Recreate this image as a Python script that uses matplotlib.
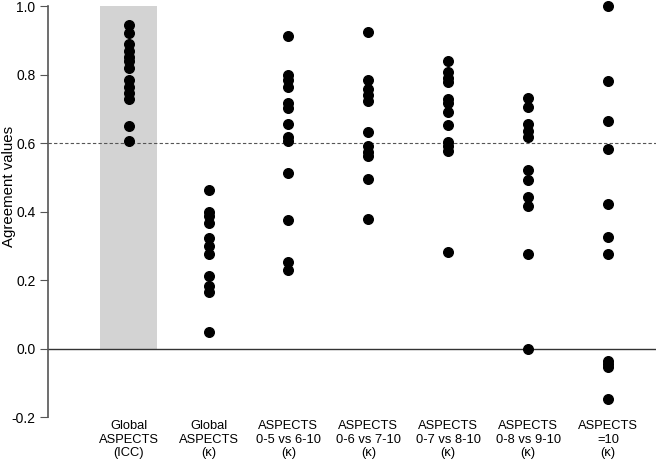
import numpy as np
import matplotlib.pyplot as plt

plt.rcParams['font.family'] = ['Liberation Sans', 'DejaVu Sans']

# categories and agreement values
labels = ['Global\nASPECTS\n(ICC)', 'Global\nASPECTS\n(\u03ba)', 'ASPECTS\n0-5 vs 6-10\n(\u03ba)',
          'ASPECTS\n0-6 vs 7-10\n(\u03ba)', 'ASPECTS\n0-7 vs 8-10\n(\u03ba)',
          'ASPECTS\n0-8 vs 9-10\n(\u03ba)', 'ASPECTS\n=10\n(\u03ba)']

icc_global = [0.945, 0.92, 0.89, 0.87, 0.85, 0.84, 0.82, 0.785, 0.765, 0.745, 0.73, 0.65, 0.607]
k_global = [0.462, 0.40, 0.386, 0.367, 0.323, 0.299, 0.275, 0.211, 0.182, 0.165, 0.047]
k_0_5 = [0.913, 0.80, 0.785, 0.763, 0.717, 0.702, 0.656, 0.618, 0.605, 0.514, 0.374, 0.253, 0.229]
k_0_6 = [0.925, 0.785, 0.757, 0.741, 0.724, 0.631, 0.590, 0.573, 0.561, 0.496, 0.377]
k_0_7 = [0.841, 0.806, 0.789, 0.777, 0.728, 0.717, 0.690, 0.653, 0.602, 0.590, 0.578, 0.283]
k_0_8 = [0.731, 0.705, 0.656, 0.634, 0.618, 0.520, 0.493, 0.443, 0.415, 0.275, 0.0]
k_10 = [1.0, 0.782, 0.663, 0.583, 0.423, 0.325, 0.275, -0.036, -0.045, -0.054, -0.148]

groups = [icc_global, k_global, k_0_5, k_0_6, k_0_7, k_0_8, k_10]

fig = plt.figure(figsize=(6.56, 4.65), dpi=100)
ax = fig.add_axes([0.073, 0.103, 0.927, 0.884])

# shaded ICC column
ax.bar(0, 1.0, width=0.71, color='#d3d3d3', zorder=0)

ax.axhline(0.6, color='#555555', lw=0.8, ls=(0, (3, 2)), zorder=1)
ax.axhline(0.0, color='#333333', lw=1.0, zorder=1)

for i, vals in enumerate(groups):
    ax.scatter(np.full(len(vals), i), vals, s=48, color='black', zorder=3, clip_on=False)

ax.set_xlim(-1.01, 6.6)
ax.set_ylim(-0.2, 1.0)
ax.set_yticks([-0.2, 0.0, 0.2, 0.4, 0.6, 0.8, 1.0])
ax.set_yticklabels(['-0.2', '0.0', '0.2', '0.4', '0.6', '0.8', '1.0'], fontsize=10)
ax.set_xticks(range(len(labels)))
ax.set_xticklabels(labels, fontsize=9.3, linespacing=1.2)
ax.tick_params(axis='x', length=0, pad=2)
ax.tick_params(axis='y', length=6, color='#555555', pad=3)
ax.set_ylabel('Agreement values', fontsize=10.8)
ax.yaxis.set_label_coords(-0.053, 0.56)

for s in ['top', 'right', 'bottom']:
    ax.spines[s].set_visible(False)
ax.spines['left'].set_color('#555555')
ax.spines['left'].set_linewidth(1.2)

fig.savefig('out.png', dpi=100)
